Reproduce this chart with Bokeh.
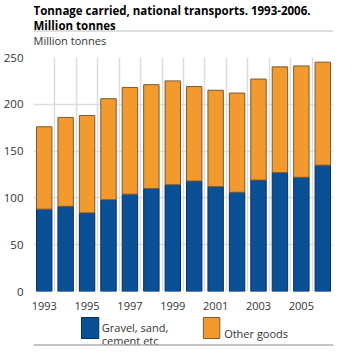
from bokeh.plotting import figure
from bokeh.layouts import column
from bokeh.models import FixedTicker, ColumnDataSource, Range1d, Span
from bokeh.core.properties import value
from bokeh.embed import file_html
from bokeh.resources import INLINE

# ---- data ----
years = [1993, 1994, 1995, 1996, 1997, 1998, 1999, 2000, 2001, 2002, 2003, 2004, 2005, 2006]
gravel = [88, 91, 84, 98, 104, 110, 114, 118, 112, 106, 119, 127, 122, 135]
other = [88, 95, 104, 108, 114, 111, 111, 101, 103, 106, 108, 113, 119, 110]
tick_years = [1993, 1995, 1997, 1999, 2001, 2003, 2005]
y_ticks = [0, 50, 100, 150, 200, 250]
series_names = ["Gravel, sand,\ncement etc", "Other goods"]
title_lines = ["Tonnage carried, national transports. 1993-2006.", "Million tonnes"]
unit_label = "Million tonnes"

colors = ["#0a5096", "#f29a2e"]
outlines = ["#0b2f5c", "#7a5a38"]
FONT = "Open Sans"
W = 347
H_HEAD, H_MAIN, H_FOOT = 48, 264, 34


def blank(height, y0, y1):
    f = figure(width=W, height=height, output_backend="svg", toolbar_location=None,
               x_range=Range1d(0, W), y_range=Range1d(y1, y0),
               x_axis_location=None, y_axis_location=None,
               min_border_left=0, min_border_right=0, min_border_top=0, min_border_bottom=0)
    f.grid.visible = False
    f.outline_line_color = None
    f.background_fill_color = "white"
    f.border_fill_color = "white"
    return f


# ---- header ----
head = blank(H_HEAD, 0, H_HEAD)
head.text(x=[0, 0], y=[9.5, 24.5], text=title_lines, text_font=value(FONT),
          text_font_style="bold", text_font_size="11.5px", text_color="#000000",
          text_baseline="alphabetic")
head.add_layout(Span(location=30.5, dimension="width", line_color="#bdbdbd", line_width=1))
head.text(x=[0], y=[40], text=[unit_label], text_font=value(FONT),
          text_font_size="11px", text_color="#333333", text_baseline="alphabetic")

# ---- main chart ----
src = ColumnDataSource(dict(year=years, gravel=gravel, other=other))
p = figure(width=W, height=H_MAIN, output_backend="svg", toolbar_location=None,
           x_range=Range1d(years[0] - 0.5, years[-1] + 0.5), y_range=Range1d(0, 250),
           min_border_left=23, min_border_right=14, min_border_top=9, min_border_bottom=20)
p.background_fill_color = "white"
p.border_fill_color = "white"
p.outline_line_color = None

p.vbar_stack(["gravel", "other"], x="year", width=0.72, source=src,
             fill_color=colors, line_color=outlines, line_width=1)

for ax in (p.xaxis, p.yaxis):
    ax.axis_line_color = None
    ax.major_tick_line_color = None
    ax.minor_tick_line_color = None
    ax.major_label_text_font = FONT
    ax.major_label_text_color = "#333333"

p.xaxis.ticker = FixedTicker(ticks=tick_years)
p.xaxis.major_label_text_font_size = "11px"
p.xaxis.major_label_standoff = 4
p.yaxis.ticker = FixedTicker(ticks=y_ticks)
p.yaxis.major_label_text_font_size = "11.5px"
p.yaxis.major_label_standoff = 4

p.xgrid.ticker = FixedTicker(ticks=[y - 0.5 for y in years] + [years[-1] + 0.5])
p.xgrid.grid_line_color = "#dcdcdc"
p.xgrid.grid_line_width = 1.5
p.ygrid.grid_line_color = "#dcdcdc"
p.ygrid.grid_line_width = 1.5

# ---- footer / legend ----
Y0 = H_HEAD + H_MAIN
foot = blank(H_FOOT, Y0, Y0 + H_FOOT)
foot.quad(left=[55.5, 196.5], right=[75.5, 215.5], top=[317, 317], bottom=[338, 338],
          fill_color=colors, line_color=outlines, line_width=1)
name_lines = series_names[0].split("\n")
foot.text(x=[79, 79], y=[327, 339.5], text=name_lines, text_font=value(FONT),
          text_font_size="11px", text_color="#333333", text_baseline="alphabetic")
foot.text(x=[220.5], y=[333], text=[series_names[1]], text_font=value(FONT),
          text_font_size="11px", text_color="#333333", text_baseline="alphabetic")
foot.add_layout(Span(location=344.5, dimension="width", line_color="#b0b0b0", line_width=1.5))

layout = column(head, p, foot, spacing=0)
open("out.html", "w").write(file_html(layout, INLINE))
